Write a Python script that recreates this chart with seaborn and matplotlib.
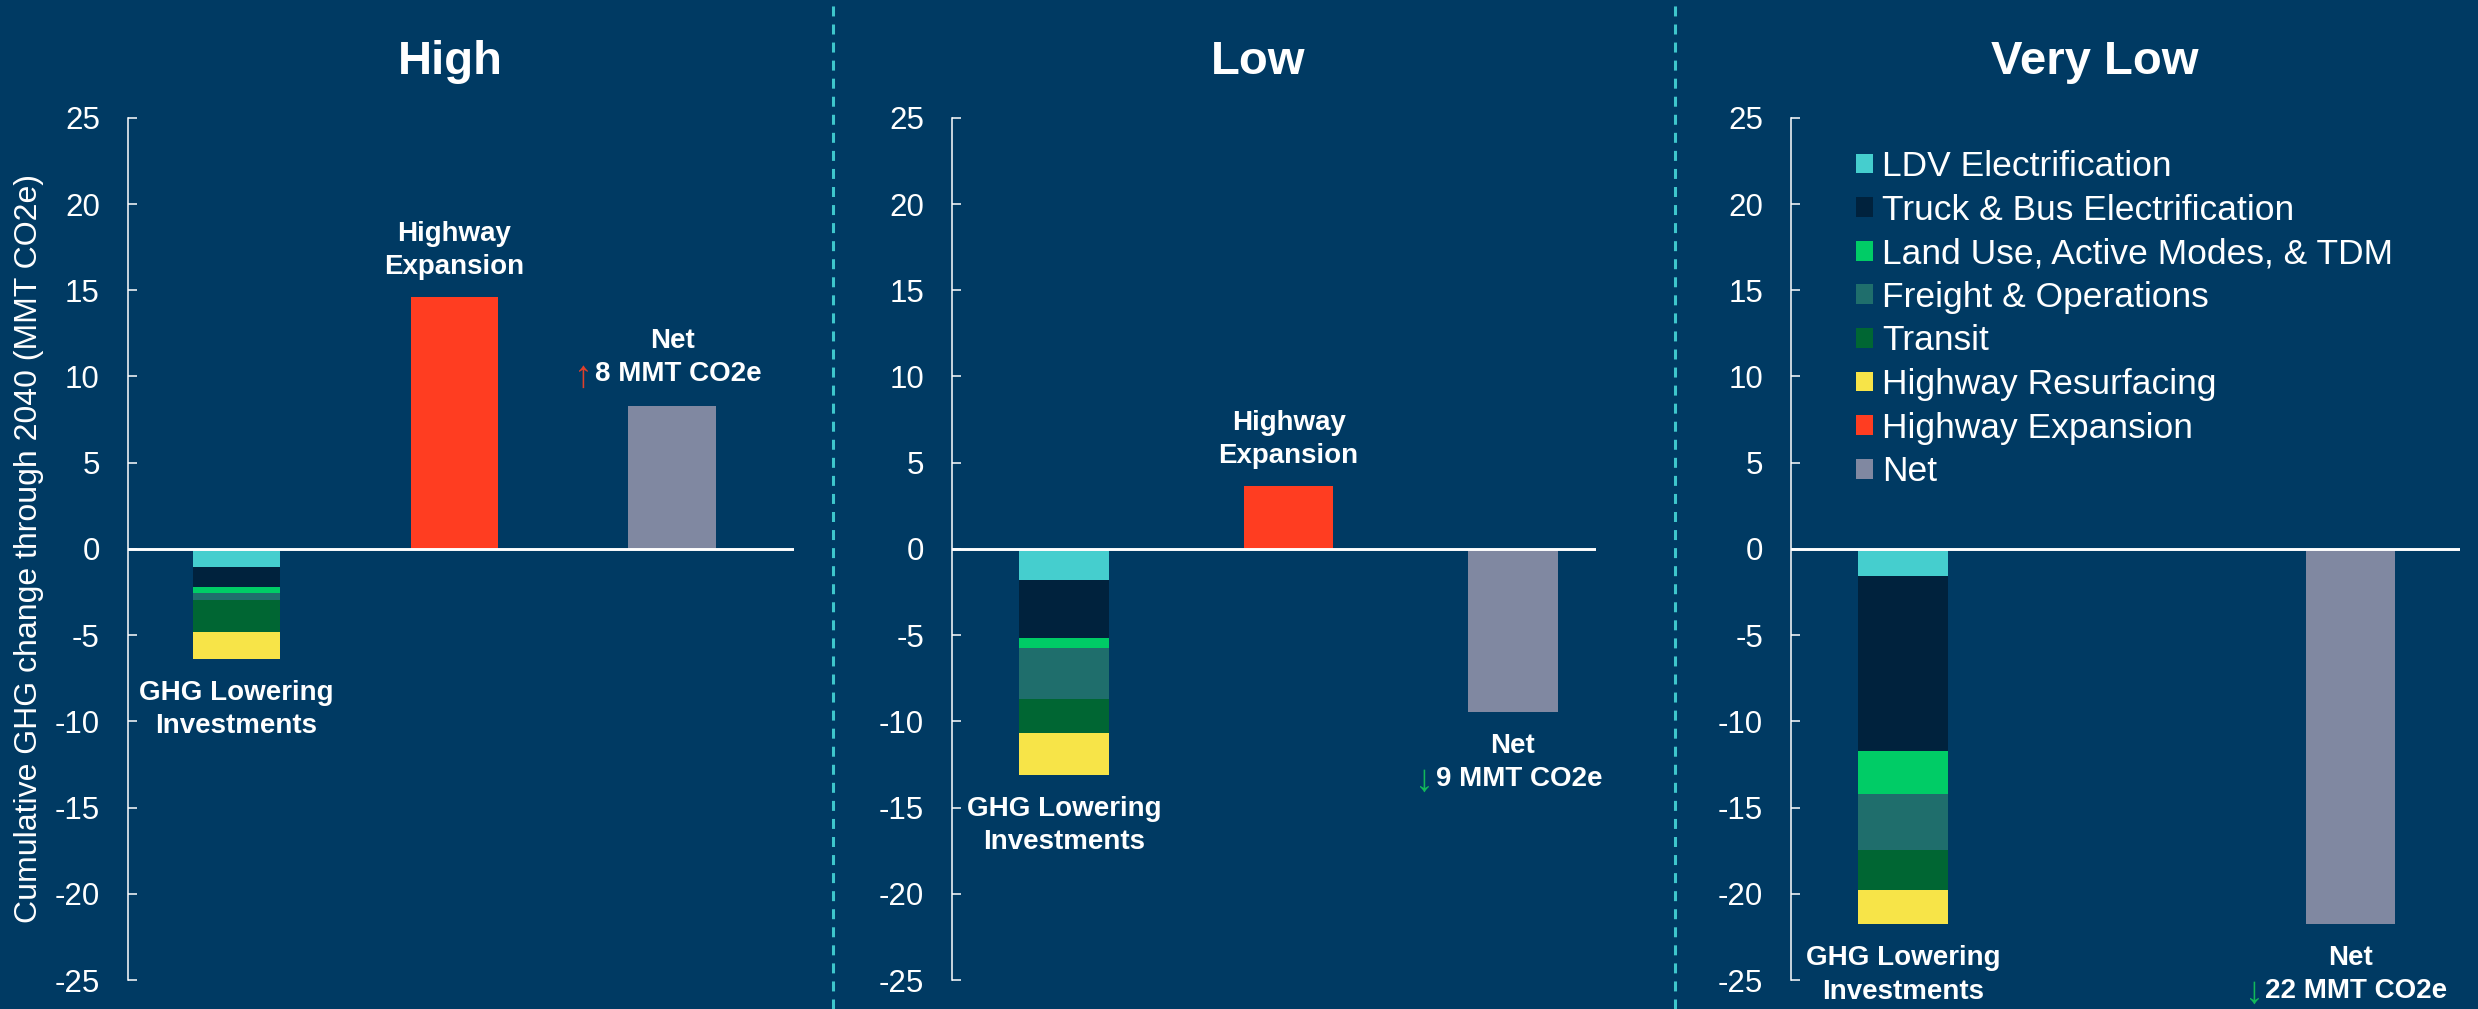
import matplotlib
matplotlib.use("Agg")
import matplotlib.pyplot as plt
from matplotlib.patches import Patch
from matplotlib.lines import Line2D
import seaborn as sns

# ---- data (MMT CO2e, cumulative through 2040) ----
scenarios = ["High", "Low", "Very Low"]
categories = ["GHG Lowering Investments", "Highway Expansion", "Net"]

segment_names = [
    "LDV Electrification",
    "Truck & Bus Electrification",
    "Land Use, Active Modes, & TDM",
    "Freight & Operations",
    "Transit",
    "Highway Resurfacing",
]
ldv = [1.05, 1.82, 1.59]
truck_bus = [1.16, 3.37, 10.12]
land_use = [0.35, 0.53, 2.49]
freight = [0.40, 2.96, 3.26]
transit = [1.86, 1.98, 2.33]
resurfacing = [1.55, 2.45, 1.98]
expansion = [14.63, 3.66, 0.0]

y_ticks = [25, 20, 15, 10, 5, 0, -5, -10, -15, -20, -25]

# ---- styling ----
BG = "#003A63"
segment_colors = ["#45CECE", "#00223D", "#00CC66", "#1F6E6C", "#006633", "#F7E448"]
expansion_color = "#FF3D21"
net_color = "#8088A1"
up_color = "#E0402A"
down_color = "#12B85A"
sep_color = "#3EC6CC"

sns.set_theme(style="white")
plt.rcParams["font.family"] = ["Liberation Sans", "DejaVu Sans"]
plt.rcParams["lines.scale_dashes"] = False

W, H = 2478, 1009
fig = plt.figure(figsize=(W / 100, H / 100), dpi=100, facecolor=BG)


def fx(px):
    return px / W


def fy(py):
    return 1 - py / H


ax_top, ax_bottom = 117.8, 980.0
panel_x = [(127.6, 794.0), (952.0, 1596.0), (1791.0, 2460.0)]
panel_xlim = [(-0.5, 2.56), (-0.5, 2.37), (-0.5, 2.49)]
title_x = [450, 1258, 2095]

segments = [ldv, truck_bus, land_use, freight, transit, resurfacing]
value_texts = []
axes = []

for k, name in enumerate(scenarios):
    l, r = panel_x[k]
    ax = fig.add_axes([fx(l), fy(ax_bottom), fx(r - l), (ax_bottom - ax_top) / H])
    ax.set_facecolor(BG)
    axes.append(ax)

    # stacked GHG-lowering bar (drawn downward from zero)
    cum = 0.0
    for seg, col in zip(segments, segment_colors):
        v = seg[k]
        sns.barplot(x=[categories[0]], y=[-v], bottom=-cum, order=categories,
                    color=col, saturation=1, width=0.4, errorbar=None,
                    linewidth=0, edgecolor="none", ax=ax)
        cum += v
    lowering_total = cum

    # highway expansion
    sns.barplot(x=[categories[1]], y=[expansion[k]], order=categories,
                color=expansion_color, saturation=1, width=0.4, errorbar=None,
                linewidth=0, edgecolor="none", ax=ax)

    # net
    net = expansion[k] - lowering_total
    sns.barplot(x=[categories[2]], y=[net], order=categories,
                color=net_color, saturation=1, width=0.4, errorbar=None,
                linewidth=0, edgecolor="none", ax=ax)

    ax.axhline(0, color="white", lw=2.1, zorder=5)
    ax.set_ylim(-25, 25)
    ax.set_xlim(*panel_xlim[k])
    ax.set_yticks(y_ticks)
    ax.set_yticklabels([str(t) for t in y_ticks])
    ax.set_xticks([])
    ax.set_xlabel("")
    ax.set_ylabel("")
    for s in ["top", "right", "bottom"]:
        ax.spines[s].set_visible(False)
    ax.spines["left"].set_color("white")
    ax.spines["left"].set_linewidth(1.1)
    ax.tick_params(axis="y", direction="in", length=6.5, width=1.1, color="white",
                   labelcolor="white", labelsize=22.5, pad=20, left=True)

    lab_kw = dict(xycoords="data", textcoords="offset pixels", ha="center",
                  va="baseline", color="white", fontsize=20, fontweight="bold")

    # category labels
    ax.annotate("GHG Lowering", xy=(0, -lowering_total), xytext=(0, -41), **lab_kw)
    ax.annotate("Investments", xy=(0, -lowering_total), xytext=(0, -74.5), **lab_kw)
    if expansion[k] > 0:
        ax.annotate("Highway", xy=(1, expansion[k]), xytext=(0, 56), **lab_kw)
        ax.annotate("Expansion", xy=(1, expansion[k]), xytext=(0, 23), **lab_kw)

    if net > 0:
        dy_net, dy_val = 58, 25
    else:
        dy_net, dy_val = -41, -74
    ax.annotate("Net", xy=(2, net), xytext=(0, dy_net), **lab_kw)
    val = ax.annotate(f"{abs(round(net)):.0f} MMT CO2e", xy=(2, net),
                      xytext=(6, dy_val), **lab_kw)
    value_texts.append((ax, val, net, dy_val))

    fig.text(fx(title_x[k]), fy(74), name, ha="center", va="baseline",
             color="white", fontsize=34, fontweight="bold")

# direction arrows in front of the net values
fig.canvas.draw()
for ax, val, net, dy_val in value_texts:
    w = val.get_window_extent().width
    arrow = "\u2191" if net > 0 else "\u2193"
    ax.annotate(arrow, xy=(2, net), xycoords="data", textcoords="offset pixels",
                xytext=(6 - w / 2 - 2, dy_val - 5), ha="right", va="baseline",
                color=up_color if net > 0 else down_color, fontsize=27)

# shared y label
fig.text(fx(29), fy((ax_top + ax_bottom) / 2),
         "Cumulative GHG change through 2040 (MMT CO2e)", rotation=90,
         ha="center", va="center", color="white", fontsize=23)

# legend
handles = [Patch(facecolor=c, edgecolor="none", label=n)
           for n, c in zip(segment_names, segment_colors)]
handles.append(Patch(facecolor=expansion_color, edgecolor="none", label="Highway Expansion"))
handles.append(Patch(facecolor=net_color, edgecolor="none", label="Net"))
axes[2].legend(handles=handles, loc="upper left",
               bbox_to_anchor=(fx(1856), fy(150)), bbox_transform=fig.transFigure,
               frameon=False, fontsize=25.5, handlelength=0.48, handleheight=0.48,
               handletextpad=0.25, labelspacing=0.3, borderpad=0, borderaxespad=0,
               labelcolor="white")

# dashed separators between panels
for xs in (833, 1675):
    fig.add_artist(Line2D([fx(xs), fx(xs)], [0, 1], transform=fig.transFigure,
                          color=sep_color, lw=2.2, linestyle=(0, (7.2, 5.8))))

fig.savefig("out.png", dpi=100, facecolor=BG)
